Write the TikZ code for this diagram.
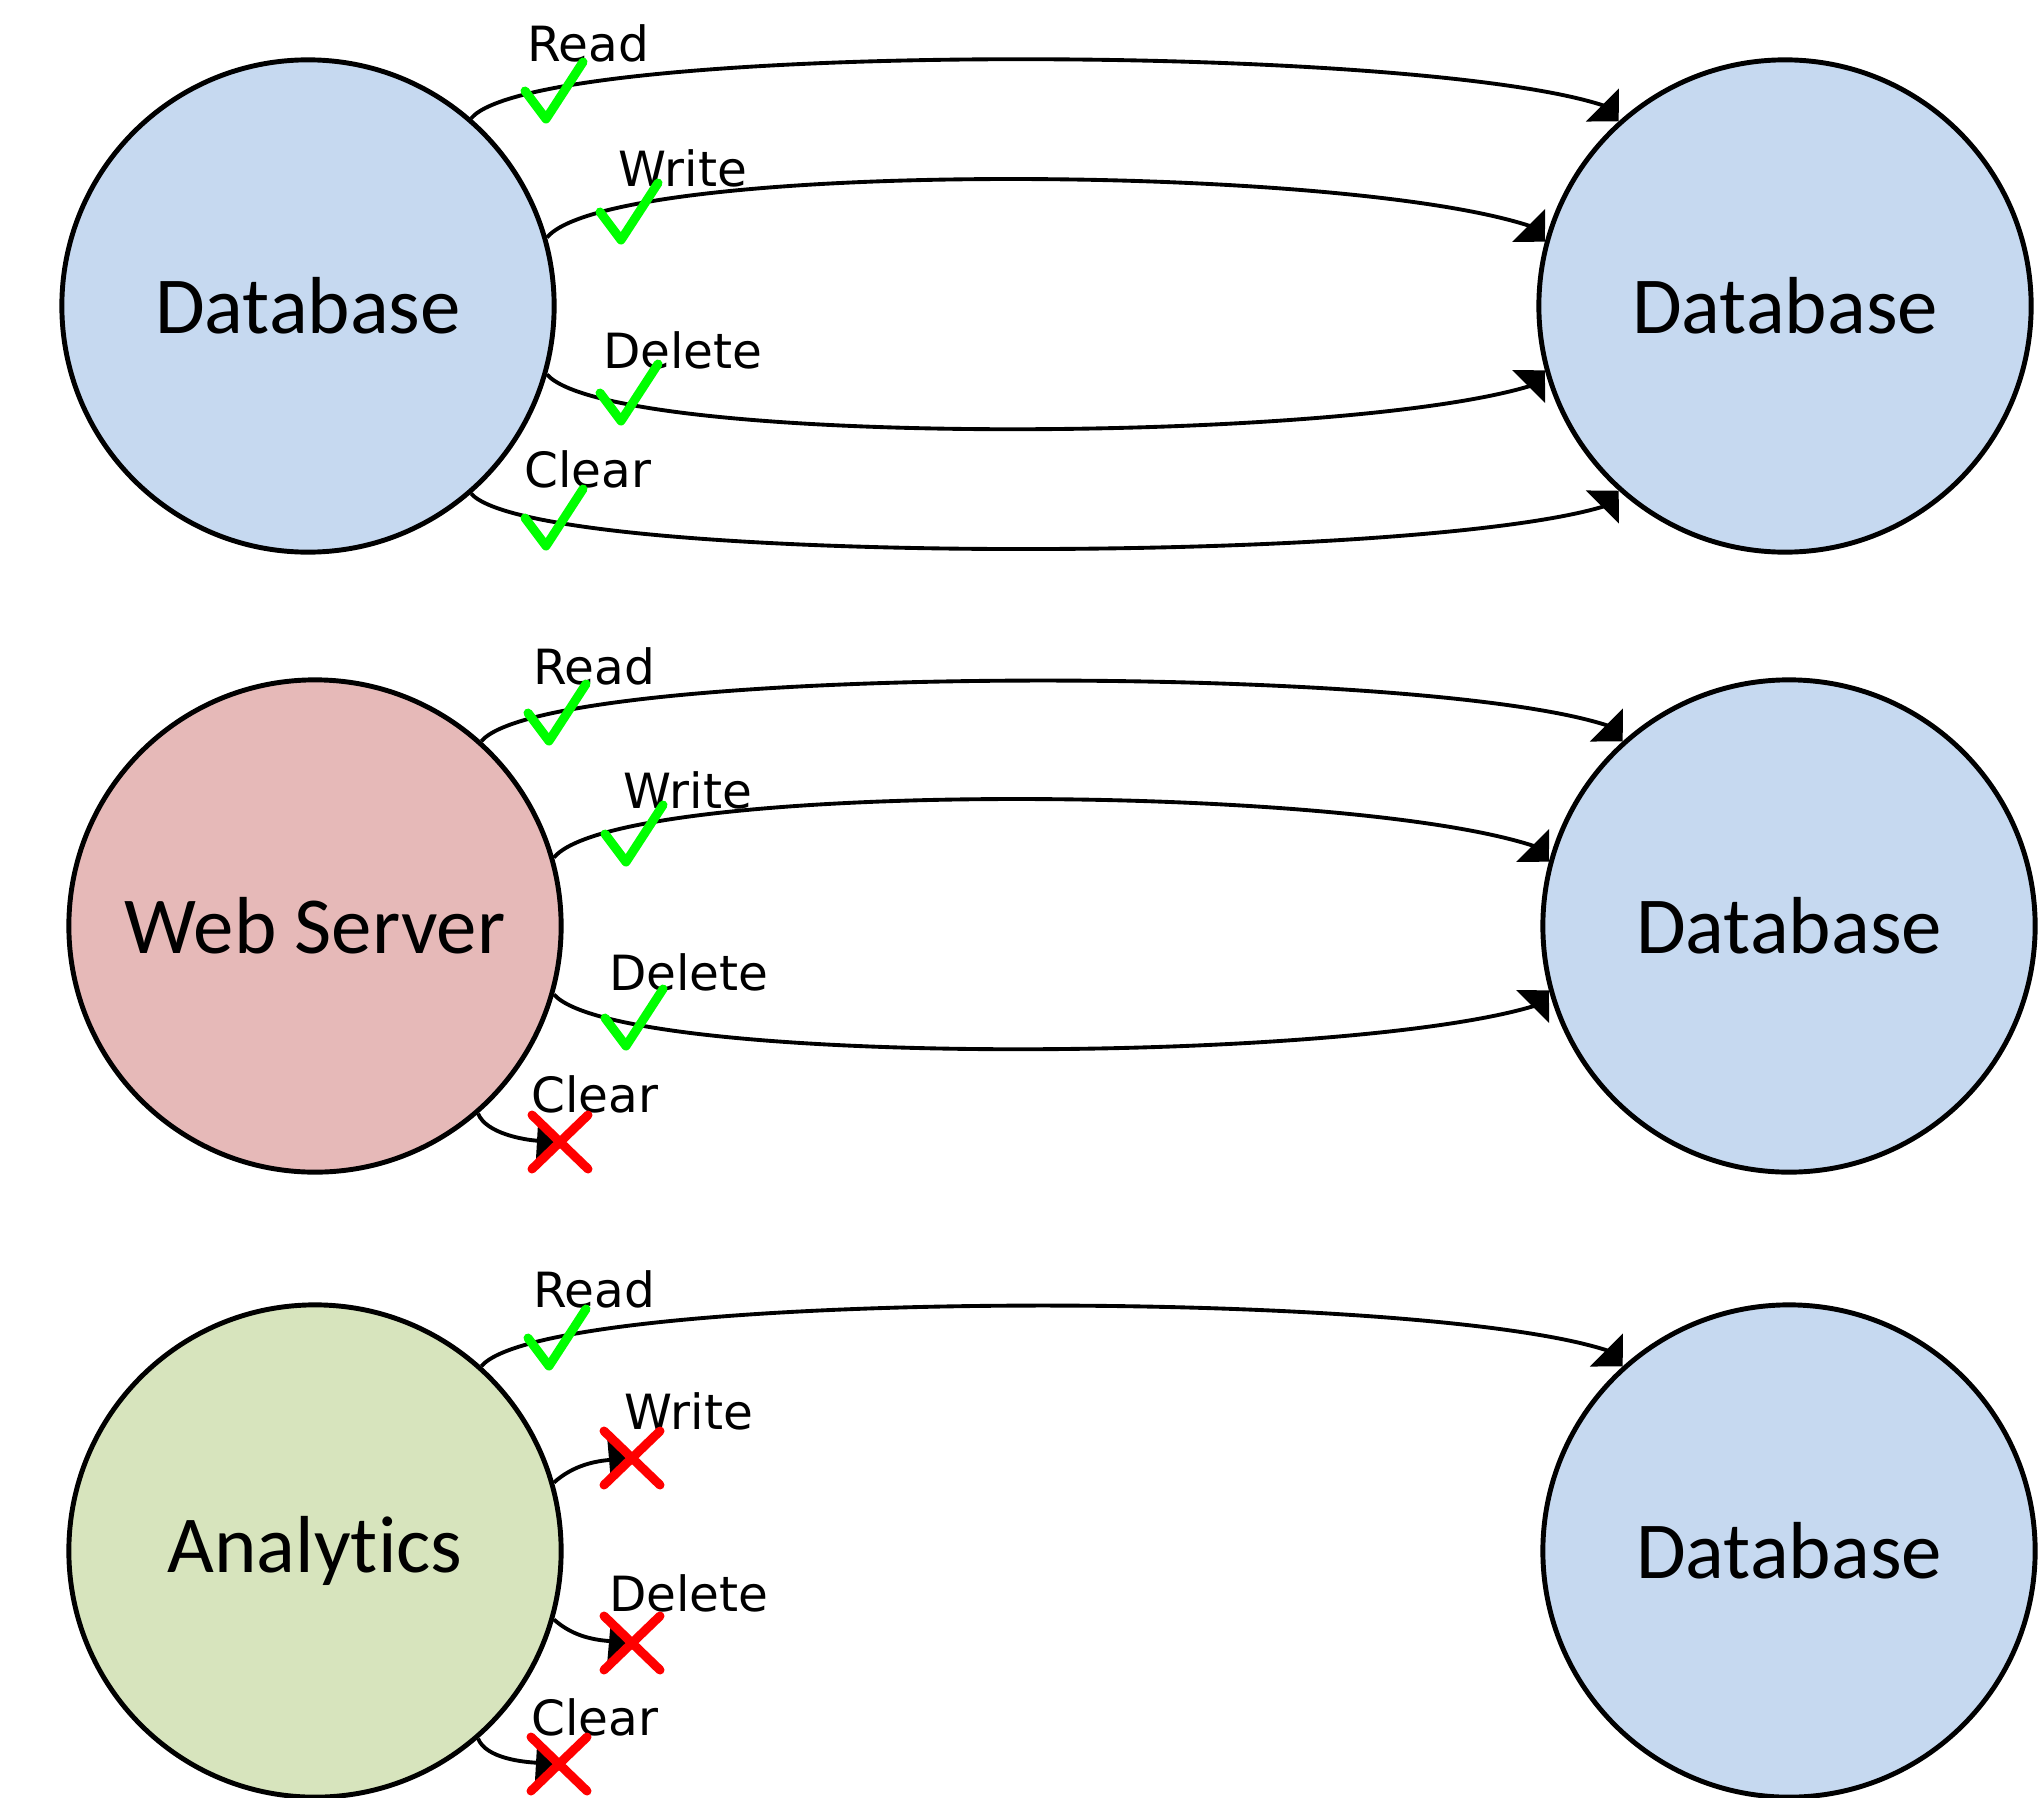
\documentclass[tikz,border=0pt]{standalone}
\usepackage{fontspec}
\setmainfont{Carlito}[RawFeature={-liga;-clig;-calt;-dlig}]
\newfontfamily\lblfont{DejaVu Sans}
\usetikzlibrary{arrows.meta,calc}

\definecolor{dbblue}{RGB}{198,217,240}
\definecolor{webrose}{RGB}{230,185,184}
\definecolor{anagreen}{RGB}{215,228,189}
\definecolor{okgreen}{RGB}{0,255,0}
\definecolor{nored}{RGB}{255,0,0}

\begin{document}
\begin{tikzpicture}[x=0.01cm,y=-0.01cm,
  actor/.style={circle, draw, line width=1.4pt, minimum size=4.92cm, inner sep=0pt,
    font=\fontsize{23pt}{27pt}\selectfont},
  flow/.style={line width=1.1pt, -{Triangle[length=0.23cm,width=0.46cm]}},
  % long connectors that rise or fall, ending with a 45-degree head
  upflow/.style={to path={.. controls ($(\tikztostart)+(64,-77)$) and ($(\tikztotarget)+(-211,-79)$)
    .. ($(\tikztotarget)+(-16,-16)$) -- (\tikztotarget)}},
  downflow/.style={to path={.. controls ($(\tikztostart)+(64,72)$) and ($(\tikztotarget)+(-211,74)$)
    .. ($(\tikztotarget)+(-16,16)$) -- (\tikztotarget)}},
  % short blocked connectors
  stubdown/.style={to path={.. controls ($(\tikztostart)+(8,20)$) and ($(\tikztotarget)+(-35,-2)$) .. (\tikztotarget)}},
  stubup/.style={to path={.. controls ($(\tikztostart)+(20,-18)$) and ($(\tikztotarget)+(-35,3)$) .. (\tikztotarget)}},
  stubdn/.style={to path={.. controls ($(\tikztostart)+(20,18)$) and ($(\tikztotarget)+(-35,-3)$) .. (\tikztotarget)}},
  op/.style={font=\lblfont\fontsize{13.8pt}{16pt}\selectfont, anchor=base, inner sep=0pt},
  okmark/.pic={\draw[okgreen, line width=0.09cm, line cap=round, line join=round]
    (-21,-28) -- (0,0) -- (37,-57);},
  nomark/.pic={\draw[nored, line width=0.09cm, line cap=round]
    (-28,-27) -- (28,27) (-28,27) -- (28,-27);},
]
\useasboundingbox (0,0) rectangle (2040,1797);

% actors
\node[actor, fill=dbblue]   (a1) at (308,306)  {Database};
\node[actor, fill=dbblue]   (b1) at (1785,306) {Database};
\node[actor, fill=webrose]  (a2) at (315,926)  {Web Server};
\node[actor, fill=dbblue]   (b2) at (1789,926) {Database};
\node[actor, fill=anagreen] (a3) at (315,1551) {Analytics};
\node[actor, fill=dbblue]   (b3) at (1789,1551) {Database};

% free ends of the blocked operations
\coordinate (c2end) at (560,1142);
\coordinate (w3end) at (632,1458);
\coordinate (d3end) at (632,1643);
\coordinate (c3end) at (559,1764);

% database -> database
\draw[flow, upflow]   (a1.49)  to (b1.132);
\draw[flow, upflow]   (a1.16)  to (b1.165);
\draw[flow, downflow] (a1.-16) to (b1.195);
\draw[flow, downflow] (a1.-49) to (b1.228);

% web server -> database
\draw[flow, upflow]   (a2.48)  to (b2.132);
\draw[flow, upflow]   (a2.16)  to (b2.165);
\draw[flow, downflow] (a2.-16) to (b2.195);
\draw[flow, stubdown] (a2.-49) to (c2end);

% analytics -> database
\draw[flow, upflow]   (a3.48)  to (b3.132);
\draw[flow, stubup]   (a3.16)  to (w3end);
\draw[flow, stubdn]   (a3.-16) to (d3end);
\draw[flow, stubdown] (a3.-49) to (c3end);

% operation labels
\node[op] (l1r) at (588,62)  {Read};
\node[op] (l1w) at (683,186) {Write};
\node[op] (l1d) at (683,368) {Delete};
\node[op] (l1c) at (588,487) {Clear};

\node[op] (l2r) at (594,684)  {Read};
\node[op] (l2w) at (688,808)  {Write};
\node[op] (l2d) at (689,990)  {Delete};
\node[op] (l2c) at (595,1112) {Clear};

\node[op] (l3r) at (594,1307) {Read};
\node[op] (l3w) at (689,1429) {Write};
\node[op] (l3d) at (689,1611) {Delete};
\node[op] (l3c) at (595,1735) {Clear};

% allowed / denied marks
\pic at (546,119) {okmark};
\pic at (621,240) {okmark};
\pic at (621,421) {okmark};
\pic at (546,546) {okmark};

\pic at (549,741)  {okmark};
\pic at (626,862)  {okmark};
\pic at (626,1046) {okmark};
\pic at (c2end)    {nomark};

\pic at (549,1366) {okmark};
\pic at (w3end)    {nomark};
\pic at (d3end)    {nomark};
\pic at (c3end)    {nomark};
\end{tikzpicture}
\end{document}
